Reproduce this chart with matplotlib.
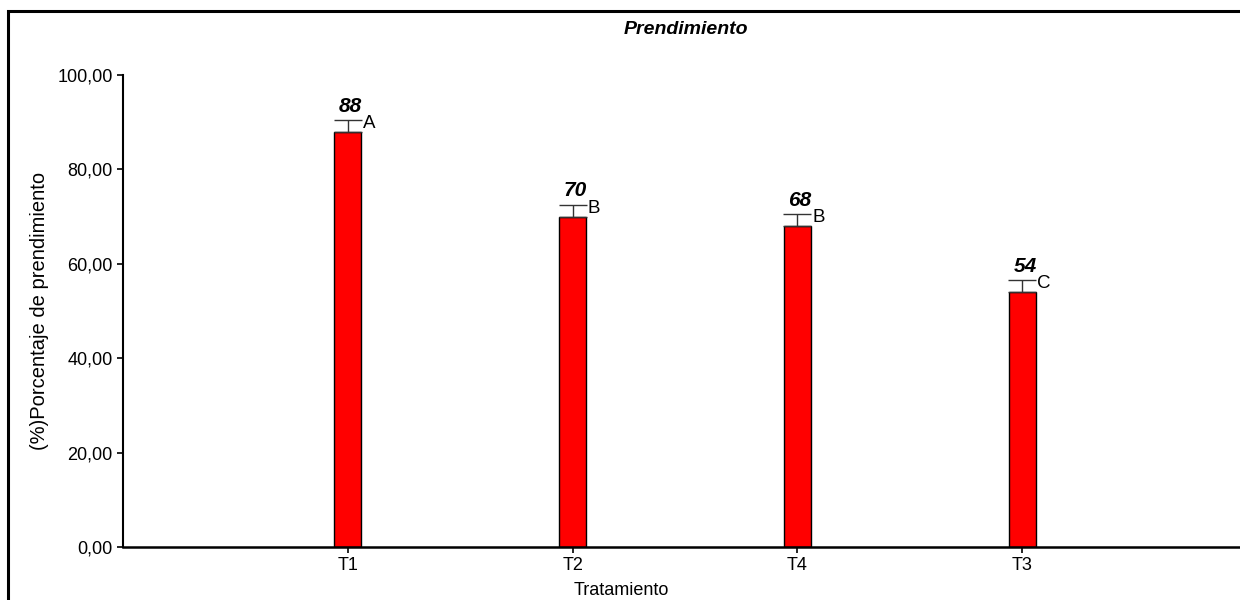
import matplotlib
matplotlib.use("Agg")
import matplotlib.pyplot as plt
from matplotlib.patches import Rectangle
from matplotlib.ticker import FuncFormatter

plt.rcParams['font.family'] = ['Liberation Sans', 'DejaVu Sans']

# Prendimiento por tratamiento (medias, error estandar y grupos)
tratamientos = ['T1', 'T2', 'T4', 'T3']
prendimiento = [88, 70, 68, 54]
error = [2.4, 2.5, 2.5, 2.5]
grupos = ['A', 'B', 'B', 'C']

fig = plt.figure(figsize=(12.4, 6), dpi=100)
ax = fig.add_axes([0.0992, 0.0883, 0.9065, 0.7867])

x = list(range(len(tratamientos)))
ax.bar(x, prendimiento, width=0.12, color='#ff0000', edgecolor='black', linewidth=1.0, zorder=2)
ax.errorbar(x, prendimiento, yerr=[[0] * len(x), error], fmt='none',
            ecolor='#333333', elinewidth=1.0, capsize=10, capthick=1.0, zorder=3)

for xi, v, e, g in zip(x, prendimiento, error, grupos):
    ax.text(xi + 0.012, v + e + 1.0, f'{v}', ha='center', va='bottom',
            fontsize=15, fontweight='bold', fontstyle='italic')
    ax.text(xi + 0.066, v + e - 0.7, g, ha='left', va='center', fontsize=13.5)

ax.set_xlim(-1, 4)
ax.set_ylim(0, 100)
ax.set_xticks(x)
ax.set_xticklabels(tratamientos)
ax.set_yticks([0, 20, 40, 60, 80, 100])
ax.yaxis.set_major_formatter(FuncFormatter(lambda v, p: f'{v:.2f}'.replace('.', ',')))
ax.tick_params(axis='both', labelsize=13, length=4, width=1.2, direction='out')

for s in ['top', 'right']:
    ax.spines[s].set_visible(False)
ax.spines['left'].set_linewidth(1.5)
ax.spines['bottom'].set_linewidth(1.8)

ax.set_xlabel('Tratamiento', fontsize=13)
ax.xaxis.set_label_coords(0.443, -0.075)
ax.set_ylabel('(%)Porcentaje de prendimiento', fontsize=14.5, labelpad=6)
fig.text(0.5535, 0.95, 'Prendimiento', ha='center', va='center',
         fontsize=14, fontweight='bold', fontstyle='italic')

# marco exterior
fig.patches.append(Rectangle((0.0065, -0.2), 1.2, 1.2 - 0.0183, transform=fig.transFigure,
                             fill=False, edgecolor='black', linewidth=2.2))

fig.savefig('out.png', dpi=100)
